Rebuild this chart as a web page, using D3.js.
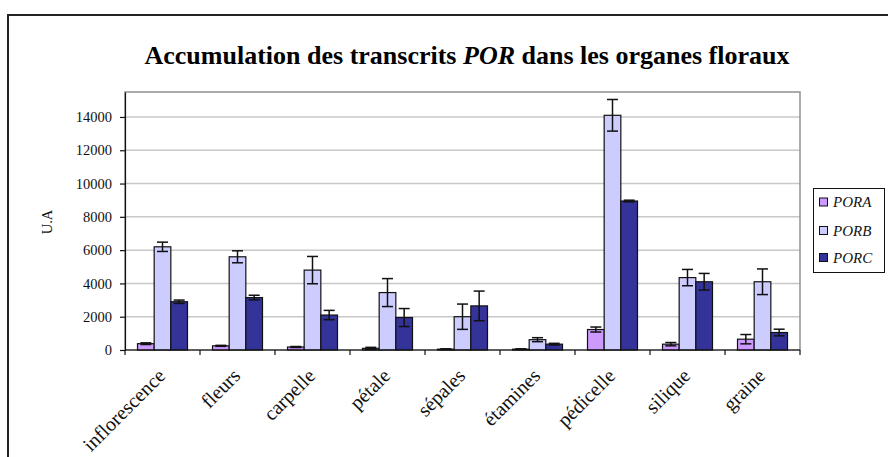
<!DOCTYPE html>
<html><head><meta charset="utf-8">
<script src="https://cdn.jsdelivr.net/npm/d3@7"></script>
<style>
html,body{margin:0;padding:0;background:#fff;}
svg{display:block;}
svg text{font-family:"Liberation Serif","Times New Roman",serif;}
</style></head>
<body>
<svg id="chart" width="888" height="457"></svg>
<script>
const categories = ["inflorescence","fleurs","carpelle","pétale","sépales","étamines","pédicelle","silique","graine"];
const seriesNames = ["PORA","PORB","PORC"];
const poraValues = [380, 250, 180, 100, 50, 50, 1230, 350, 650];
const poraErrors = [50, 30, 30, 60, 20, 20, 150, 100, 280];
const porbValues = [6200, 5600, 4800, 3450, 2000, 620, 14100, 4350, 4100];
const porbErrors = [280, 360, 820, 840, 760, 120, 950, 490, 770];
const porcValues = [2900, 3150, 2100, 1950, 2650, 350, 8950, 4100, 1050];
const porcErrors = [100, 140, 280, 540, 890, 50, 50, 500, 200];
const yTicks = [0, 2000, 4000, 6000, 8000, 10000, 12000, 14000];
const yMax = 15500;
const colors = ["#CC99FF", "#CCCCFF", "#333399"];

const seriesVals = [poraValues, porbValues, porcValues];
const seriesErrs = [poraErrors, porbErrors, porcErrors];

const svg = d3.select("#chart");
const plot = {left:125, right:800, top:92, bottom:350};

// outer frame
svg.append("rect").attr("x",8).attr("y",15).attr("width",900).attr("height",470)
  .attr("fill","none").attr("stroke","#222").attr("stroke-width",2);

// title
const title = svg.append("text").attr("x",467).attr("y",64).attr("text-anchor","middle")
  .attr("font-size",26).attr("font-weight","bold").attr("fill","#000");
title.append("tspan").text("Accumulation des transcrits ");
title.append("tspan").attr("font-style","italic").text("POR");
title.append("tspan").text(" dans les organes floraux");

const x0 = d3.scaleBand().domain(categories).range([plot.left, plot.right])
  .paddingInner(1/3).paddingOuter(1/6);
const x1 = d3.scaleBand().domain(seriesNames).range([0, x0.bandwidth()]).padding(0);
const y = d3.scaleLinear().domain([0, yMax]).range([plot.bottom, plot.top]);

// gridlines
svg.append("g").selectAll("line").data(yTicks.filter(d=>d>0)).join("line")
  .attr("x1",plot.left).attr("x2",plot.right)
  .attr("y1",d=>y(d)).attr("y2",d=>y(d))
  .attr("stroke","#c8c8c8").attr("stroke-width",1.5);

// plot border
svg.append("rect").attr("x",plot.left).attr("y",plot.top)
  .attr("width",plot.right-plot.left).attr("height",plot.bottom-plot.top)
  .attr("fill","none").attr("stroke","#909090").attr("stroke-width",1.5);

// bars
const data = [];
categories.forEach((c,i)=>{
  seriesNames.forEach((s,j)=>{
    data.push({cat:c, ser:s, j:j, v:seriesVals[j][i], e:seriesErrs[j][i]});
  });
});
const bars = svg.append("g");
bars.selectAll("rect").data(data).join("rect")
  .attr("x",d=>x0(d.cat)+x1(d.ser))
  .attr("y",d=>y(d.v))
  .attr("width",x1.bandwidth())
  .attr("height",d=>y(0)-y(d.v))
  .attr("fill",d=>colors[d.j])
  .attr("stroke","#111").attr("stroke-width",1.2);

// error bars
const eg = svg.append("g").attr("stroke","#111").attr("stroke-width",1.5);
data.forEach(d=>{
  const cx = x0(d.cat)+x1(d.ser)+x1.bandwidth()/2;
  const yt = y(d.v+d.e), yb = y(Math.max(0,d.v-d.e));
  eg.append("line").attr("x1",cx).attr("x2",cx).attr("y1",yt).attr("y2",yb);
  eg.append("line").attr("x1",cx-5.5).attr("x2",cx+5.5).attr("y1",yt).attr("y2",yt);
  eg.append("line").attr("x1",cx-5.5).attr("x2",cx+5.5).attr("y1",yb).attr("y2",yb);
});

// y axis
const yAxis = d3.axisLeft(y).tickValues(yTicks).tickFormat(d3.format("d"))
  .tickSize(5).tickPadding(8).tickSizeOuter(0);
const ya = svg.append("g").attr("transform",`translate(${plot.left},0)`).call(yAxis)
  .attr("font-family",null).attr("font-size",null);
ya.select(".domain").attr("stroke","#111").attr("stroke-width",1.2);
ya.selectAll(".tick line").attr("stroke","#111").attr("stroke-width",1.2);
ya.selectAll(".tick text").attr("font-size",14.5).attr("fill","#111");

// x axis line
svg.append("line").attr("x1",plot.left).attr("x2",plot.right)
  .attr("y1",plot.bottom).attr("y2",plot.bottom).attr("stroke","#111").attr("stroke-width",1.2);
const off = x0.step()*x0.paddingOuter();
const bounds = categories.map(c=>x0(c)-off).concat([plot.right]);
svg.append("g").selectAll("line").data(bounds).join("line")
  .attr("x1",d=>d).attr("x2",d=>d).attr("y1",plot.bottom).attr("y2",plot.bottom+5)
  .attr("stroke","#111").attr("stroke-width",1.2);

// x labels
svg.append("g").selectAll("text").data(categories).join("text")
  .attr("transform",d=>`translate(${x0(d)+x0.bandwidth()/2+4},${plot.bottom+27}) rotate(-45)`)
  .attr("text-anchor","end").attr("font-size",20).attr("fill","#111").text(d=>d);

// y label
svg.append("text").attr("transform","translate(52,222) rotate(-90)")
  .attr("text-anchor","middle").attr("font-size",14.5).attr("fill","#111").text("U.A");

// legend
const lg = svg.append("g");
lg.append("rect").attr("x",813.5).attr("y",188.5).attr("width",71).attr("height",84)
  .attr("fill","#fff").attr("stroke","#111").attr("stroke-width",1);
const ly = [202, 230.5, 257.5];
lg.selectAll("g.item").data(seriesNames).join("g").attr("class","item")
  .each(function(s,j){
    const g = d3.select(this);
    g.append("rect").attr("x",819.5).attr("y",ly[j]-4).attr("width",8).attr("height",8)
      .attr("fill",colors[j]).attr("stroke","#111").attr("stroke-width",1);
    g.append("text").attr("x",833).attr("y",ly[j]+5).attr("font-size",15)
      .attr("font-style","italic").attr("fill","#111").text(s);
  });
</script>
</body></html>
